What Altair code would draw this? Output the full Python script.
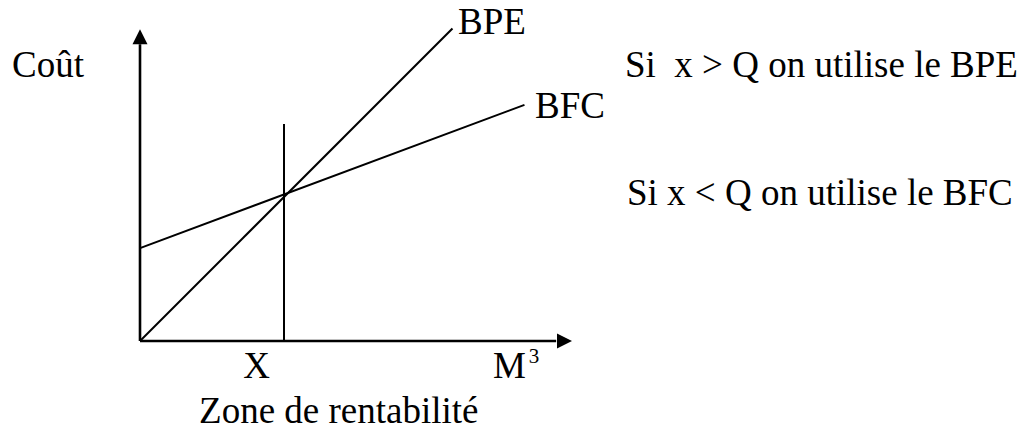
import altair as alt
import pandas as pd

# ---- conceptual data (quantity q, cost c) ----
# Line segments of the diagram
seg_names = ["axe_cout", "axe_qte", "BPE", "BFC", "seuil"]
seg_q0 = [0.0, 0.0, 0.0, 0.0, 10.0]
seg_c0 = [0.0, 0.0, 0.0, 6.45, 0.0]
seg_q1 = [0.0, 28.9, 21.7, 26.7, 10.0]
seg_c1 = [20.6, 0.0, 21.7, 16.4, 15.07]
seg_width = [2.6, 2.6, 2.0, 2.0, 2.0]

# Arrow tips of the axes
arrow_up_q = [0.0]
arrow_up_c = [21.65]
arrow_right_q = [30.0]
arrow_right_c = [0.0]

# Text annotations
txt_labels = ["Coût", "BPE", "BFC", "X", "M",
              "Zone de rentabilité",
              "Si\u00a0 x > Q on utilise le BPE",
              "Si x < Q on utilise le BFC"]
txt_q = [-8.89, 22.08, 27.43, 8.09, 24.51, 4.10, 33.68, 33.82]
txt_c = [18.33, 21.32, 15.49, -2.57, -2.57, -5.69, 18.33, 9.44]
txt_align = ["left", "left", "left", "center", "left", "left", "left", "left"]

sup_labels = ["3"]
sup_q = [27.0]
sup_c = [-1.53]

# ---- scales ----
PX = 14.4  # pixels per unit
W, H = 1009, 418
x_dom = [-132 / PX, (W - 132) / PX]
y_dom = [-(H - 333) / PX, 333 / PX]
xs = alt.Scale(domain=x_dom, range=[0, W], nice=False, zero=False)
ys = alt.Scale(domain=y_dom, range=[H, 0], nice=False, zero=False)

segs = pd.DataFrame({"name": seg_names, "q0": seg_q0, "c0": seg_c0,
                     "q1": seg_q1, "c1": seg_c1, "w": seg_width})
lines = alt.Chart(segs).mark_rule(color="black", strokeCap="butt").encode(
    x=alt.X("q0:Q", scale=xs, axis=None),
    y=alt.Y("c0:Q", scale=ys, axis=None),
    x2="q1:Q",
    y2="c1:Q",
    strokeWidth=alt.StrokeWidth("w:Q", scale=None, legend=None),
)

up = alt.Chart(pd.DataFrame({"q": arrow_up_q, "c": arrow_up_c})).mark_point(
    shape="M0,0L-0.5,1L0.5,1Z", size=900, filled=True, color="black",
    opacity=1, strokeWidth=0
).encode(x=alt.X("q:Q", scale=xs, axis=None), y=alt.Y("c:Q", scale=ys, axis=None))

right = alt.Chart(pd.DataFrame({"q": arrow_right_q, "c": arrow_right_c})).mark_point(
    shape="M0,0L-1,-0.5L-1,0.5Z", size=900, filled=True, color="black",
    opacity=1, strokeWidth=0
).encode(x=alt.X("q:Q", scale=xs, axis=None), y=alt.Y("c:Q", scale=ys, axis=None))

txt_df = pd.DataFrame({"label": txt_labels, "q": txt_q, "c": txt_c, "al": txt_align})
texts = []
for al in ["left", "center"]:
    texts.append(
        alt.Chart(txt_df[txt_df.al == al]).mark_text(
            font="Liberation Serif", fontSize=37, color="black",
            align=al, baseline="alphabetic"
        ).encode(x=alt.X("q:Q", scale=xs, axis=None),
                 y=alt.Y("c:Q", scale=ys, axis=None),
                 text="label:N")
    )

sup = alt.Chart(pd.DataFrame({"label": sup_labels, "q": sup_q, "c": sup_c})).mark_text(
    font="Liberation Serif", fontSize=21, color="black",
    align="left", baseline="alphabetic"
).encode(x=alt.X("q:Q", scale=xs, axis=None),
         y=alt.Y("c:Q", scale=ys, axis=None),
         text="label:N")

chart = alt.layer(lines, up, right, *texts, sup).properties(
    width=W, height=H, padding=0, autosize=alt.AutoSizeParams(type="none")
).configure_view(strokeWidth=0, stroke="transparent")

chart.save("out.html", embed_options={"renderer": "svg", "actions": False})
